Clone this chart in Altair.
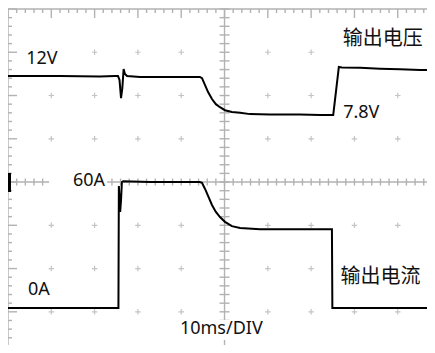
import altair as alt
import pandas as pd
import numpy as np

# ---- data (time in ms, value in screen divisions) ----
volt_t = [0, 12.0, 21.2, 24.7, 25.4, 25.75, 26.1, 26.4, 26.7, 27.0, 27.5, 30.5, 37.4, 43.2,
          44.3, 44.8, 45.5, 46.2, 47.1, 48.0, 48.95, 50.1, 51.7, 53.6, 55.9, 60.5, 67.4,
          72.1, 75.1, 76.4, 77.1, 81.3, 85.9, 90.5, 95.2, 98.6]
volt_v = [2.45, 2.45, 2.44, 2.45, 2.45, 2.36, 1.94, 2.17, 2.61, 2.50, 2.45, 2.43, 2.43, 2.43,
          2.43, 2.40, 2.24, 2.08, 1.92, 1.80, 1.73, 1.66, 1.62, 1.60, 1.57, 1.56, 1.56,
          1.55, 1.55, 2.66, 2.65, 2.64, 2.62, 2.61, 2.59, 2.59]

curr_t = [0, 12.0, 21.2, 25.5, 25.6, 25.9, 26.1, 26.3, 26.6, 32.8, 39.7, 44.3, 44.8, 45.5,
          46.2, 47.1, 48.0, 48.95, 50.1, 51.7, 53.6, 58.2, 65.1, 72.1, 74.8, 74.9, 81.3,
          90.5, 98.6]
curr_v = [-2.91, -2.91, -2.91, -2.91, -0.09, -0.69, -0.42, 0.0, 0.02, 0.0, 0.0, 0.0, -0.02, -0.16,
          -0.32, -0.53, -0.69, -0.81, -0.92, -1.02, -1.06, -1.09, -1.09, -1.09, -1.09, -2.91, -2.91,
          -2.91, -2.91]

latin_text = ["12V", "7.8V", "60A", "0A", "10ms/DIV"]
latin_t = [4.2, 77.4, 15.0, 4.6, 39.7]
latin_v = [2.84, 1.60, 0.02, -2.50, -3.40]

cjk_text = ["输出电压", "输出电流"]
cjk_t = [77.3, 76.8]
cjk_v = [3.31, -2.20]

box_t = [3.2, 76.9, 76.5, 9.5, 3.7, 76.2, 38.8]
box_t2 = [12.5, 87.3, 97.9, 22.9, 11.1, 97.9, 59.8]
box_v = [3.05, 2.08, 3.61, 0.21, -2.29, -1.85, -3.19]
box_v2 = [2.64, 1.25, 2.91, -0.21, -2.71, -2.54, -3.65]

marker_t = [0.35]
marker_v = [0.21]
marker_v2 = [-0.23]

# ---- screen geometry ----
X_DIVS, Y_DIVS = 10, 8
MS_PER_DIV = 10
X_MAX = X_DIVS * MS_PER_DIV
PX_PER_MS = 4.3306
PX_PER_DIV = 43.26
W, H = 419, 337
x_dom = [0, W / PX_PER_MS]
y_top = 4 + 1 / PX_PER_DIV
y_dom = [y_top - H / PX_PER_DIV, y_top]

GRID = "#b2b2b2"
DOT = "#c4c4c4"

segs = []
def seg(x, x2, y, y2):
    segs.append(dict(x=x, x2=x2, y=y, y2=y2))

# frame
seg(0, 0, -4, 4)
seg(X_MAX, X_MAX, -4, 4)
seg(0, X_MAX, 4, 4)
seg(0, X_MAX, -4, -4)
# centre cross
seg(0, X_MAX, 0, 0)
seg(X_MAX / 2, X_MAX / 2, -4, 4)

minor_x = np.round(np.arange(0, X_MAX + 0.01, MS_PER_DIV / 5), 3)
minor_y = np.round(np.arange(-4, 4.01, 0.2), 3)
mn_px, mj_px = 4, 9
for xv in minor_x:
    major = abs(xv / MS_PER_DIV - round(xv / MS_PER_DIV)) < 1e-6
    L = (mj_px if major else mn_px) / PX_PER_DIV
    seg(xv, xv, 4, 4 - L)
    seg(xv, xv, -4, -4 + L)
    h = 3.5 / PX_PER_DIV
    seg(xv, xv, -h, h)
for yv in minor_y:
    major = abs(yv - round(yv)) < 1e-6
    L = (mj_px if major else mn_px) / PX_PER_MS
    seg(0, L, yv, yv)
    seg(X_MAX, X_MAX - L, yv, yv)
    h = 5 / PX_PER_MS
    seg(X_MAX / 2 - h, X_MAX / 2 + h, yv, yv)

seg_df = pd.DataFrame(segs)

dots = pd.DataFrame([dict(x=i * MS_PER_DIV, y=j) for i in range(1, X_DIVS) if i != 5
                     for j in range(-3, 4) if j != 0])

xs = alt.Scale(domain=x_dom, nice=False, zero=False)
ys = alt.Scale(domain=y_dom, nice=False, zero=False)
X = lambda f: alt.X(f, type="quantitative", scale=xs, axis=None)
Y = lambda f: alt.Y(f, type="quantitative", scale=ys, axis=None)

grid = alt.Chart(seg_df).mark_rule(color=GRID, strokeWidth=1.4, clip=True).encode(
    x=X("x"), x2="x2", y=Y("y"), y2="y2")

dot_layer = alt.Chart(dots).mark_point(
    shape="M-1,0H1M0,-1V1", size=30, filled=False, color=DOT, strokeWidth=1.2, opacity=1
).encode(x=X("x"), y=Y("y"))

boxes = alt.Chart(pd.DataFrame(dict(t=box_t, t2=box_t2, v=box_v, v2=box_v2))).mark_rect(
    color="white", clip=True).encode(x=X("t"), x2="t2", y=Y("v"), y2="v2")

volt = pd.DataFrame(dict(t=volt_t, v=volt_v, i=range(len(volt_t))))
curr = pd.DataFrame(dict(t=curr_t, v=curr_v, i=range(len(curr_t))))
volt_line = alt.Chart(volt).mark_line(color="#000000", strokeWidth=2, clip=True).encode(
    x=X("t"), y=Y("v"), order="i:Q")
curr_line = alt.Chart(curr).mark_line(color="#000000", strokeWidth=2, clip=True).encode(
    x=X("t"), y=Y("v"), order="i:Q")

marker = alt.Chart(pd.DataFrame(dict(t=marker_t, v=marker_v, v2=marker_v2))).mark_rule(
    color="#000000", strokeWidth=3).encode(x=X("t"), y=Y("v"), y2="v2")

latin = alt.Chart(pd.DataFrame(dict(t=latin_t, v=latin_v, s=latin_text))).mark_text(
    font="Noto Sans", fontSize=18, align="left", baseline="middle", color="#111111"
).encode(x=X("t"), y=Y("v"), text="s:N")

cjk = alt.Chart(pd.DataFrame(dict(t=cjk_t, v=cjk_v, s=cjk_text))).mark_text(
    font="Noto Sans CJK SC", fontSize=20, align="left", baseline="middle", color="#111111"
).encode(x=X("t"), y=Y("v"), text="s:N")

chart = alt.layer(grid, dot_layer, boxes, volt_line, curr_line, marker, latin, cjk).properties(
    width=W, height=H, padding=0, autosize=alt.AutoSizeParams(type="none"),
    background="white"
).configure_view(stroke=None)

chart.save("out.html", embed_options={"renderer": "svg", "actions": False})
